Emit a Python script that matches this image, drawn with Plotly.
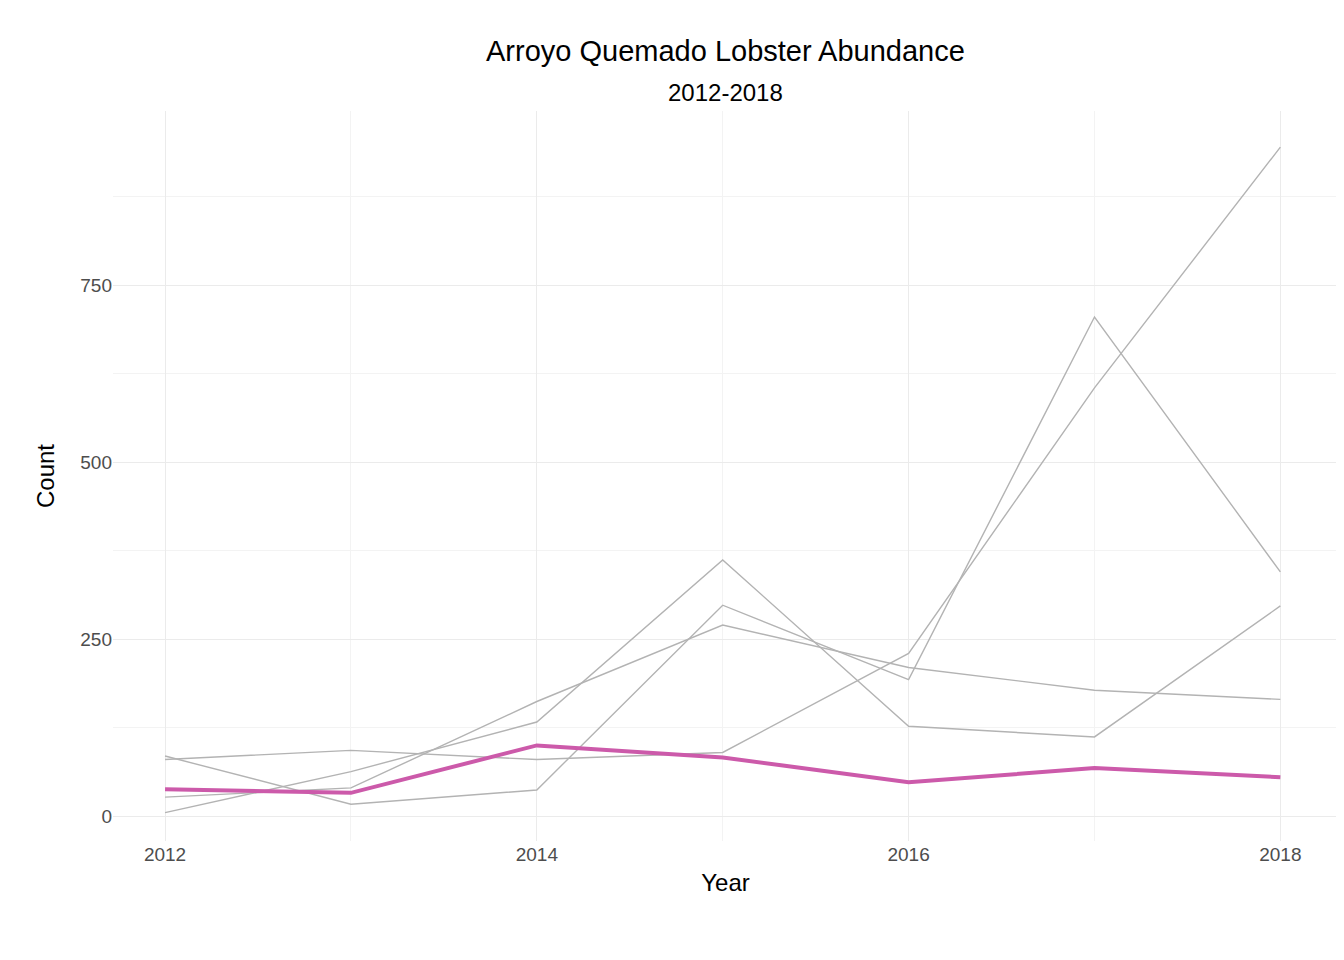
import plotly.graph_objects as go

# ── DATA ──────────────────────────────────────────────────────────────────────
years = [2012, 2013, 2014, 2015, 2016, 2017, 2018]

other_sites = {
    "site_a": [80, 93, 80, 90, 230, 605, 945],
    "site_b": [85, 17, 37, 298, 193, 705, 345],
    "site_c": [5, 63, 133, 362, 127, 112, 297],
    "site_d": [27, 40, 162, 270, 210, 178, 165],
}
aque = [38, 33, 100, 83, 48, 68, 55]

# ── CHART ─────────────────────────────────────────────────────────────────────
fig = go.Figure()

for name, vals in other_sites.items():
    fig.add_trace(go.Scatter(
        x=years, y=vals, mode="lines", name=name,
        line=dict(color="#b3b3b3", width=1.4), showlegend=False,
    ))

fig.add_trace(go.Scatter(
    x=years, y=aque, mode="lines", name="AQUE",
    line=dict(color="#cc5aaa", width=4), showlegend=False,
))

fig.update_layout(
    width=1344, height=960,
    plot_bgcolor="white", paper_bgcolor="white",
    font=dict(family="Liberation Sans, Arial", color="black"),
    margin=dict(l=105, r=14, t=103, b=127),
    annotations=[
        dict(text="Arroyo Quemado Lobster Abundance", xref="paper", yref="paper",
             x=0.5, y=1, yshift=78, showarrow=False, font=dict(size=29)),
        dict(text="2012-2018", xref="paper", yref="paper",
             x=0.5, y=1, yshift=34, showarrow=False, font=dict(size=24)),
    ],
    xaxis=dict(
        title=dict(text="Year", font=dict(size=24), standoff=10),
        range=[2011.72, 2018.31], tickvals=[2012, 2014, 2016, 2018],
        tickfont=dict(size=19, color="#4d4d4d"), automargin=False,
        showgrid=True, gridcolor="#ebebeb", gridwidth=1.3, zeroline=False,
        minor=dict(dtick=1, showgrid=True, gridcolor="#f3f3f3", gridwidth=0.8),
    ),
    yaxis=dict(
        title=dict(text="Count", font=dict(size=24), standoff=18),
        range=[-35, 996], tickvals=[0, 250, 500, 750],
        tickfont=dict(size=19, color="#4d4d4d"), automargin=False,
        showgrid=True, gridcolor="#ebebeb", gridwidth=1.3, zeroline=False,
        minor=dict(dtick=125, showgrid=True, gridcolor="#f3f3f3", gridwidth=0.8),
    ),
)

fig.write_html("out.html")
